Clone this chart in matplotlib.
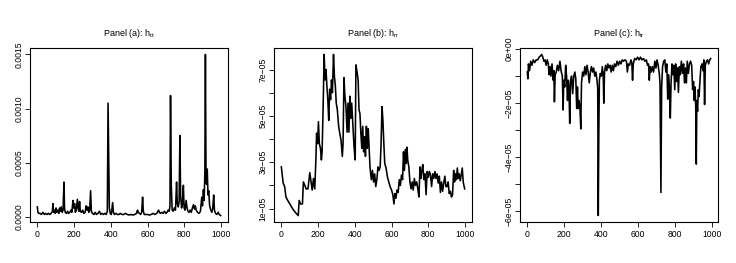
import numpy as np
import matplotlib
matplotlib.use("Agg")
import matplotlib.pyplot as plt

plt.rcParams["font.family"] = ["Liberation Sans", "DejaVu Sans"]
plt.rcParams["mathtext.default"] = "regular"

# panel (a): h_tt, values in 1e-5
a_x = [0, 3, 8, 15, 22, 30, 38, 45, 52, 60, 68, 75, 82, 85, 88, 93, 97, 102, 106, 112, 117, 121, 125, 130,
       135, 140, 145, 148, 152, 158, 165, 170, 177, 183, 188, 194, 198, 203, 207, 212, 218, 222, 226, 230,
       234, 240, 247, 253, 260, 266, 270, 275, 280, 285, 290, 294, 300, 308, 315, 322, 330, 338, 345, 352,
       360, 368, 375, 381, 385, 388, 392, 397, 403, 410, 414, 420, 428, 436, 444, 452, 460, 470, 480, 490,
       500, 510, 520, 530, 540, 545, 550, 556, 562, 568, 573, 577, 582, 590, 600, 610, 620, 630, 640, 650,
       660, 665, 670, 678, 685, 692, 700, 706, 712, 718, 722, 725, 729, 734, 740, 746, 752, 758, 762, 767,
       772, 776, 780, 785, 790, 795, 799, 804, 810, 815, 820, 826, 832, 838, 844, 850, 855, 860, 865, 872,
       880, 888, 895, 899, 904, 908, 912, 915, 918, 921, 925, 929, 933, 938, 944, 950, 955, 960, 964, 970,
       977, 985, 990, 998]
a_v = [9, 4, 3, 3, 2, 4, 2, 3, 2, 3, 2, 3, 5, 12, 4, 6, 3, 8, 4, 6, 3, 8, 5, 9,
       4, 6, 32, 8, 4, 3, 5, 3, 4, 6, 4, 15, 8, 12, 4, 6, 16, 8, 5, 14,
       5, 4, 6, 3, 4, 10, 6, 9, 4, 6, 24, 5, 3, 2, 4, 2, 3, 5, 2, 3,
       2, 3, 2, 5, 105, 60, 8, 3, 2, 13, 4, 2, 3, 2, 2, 3, 2, 2, 3, 2,
       1.5, 2, 1.5, 2, 3, 6, 4, 3, 2, 4, 18, 5, 2, 2, 2, 1.5, 2, 3, 2, 3,
       6, 4, 3, 4, 3, 5, 3, 4, 6, 5, 10, 112, 30, 6, 5, 8, 6, 32, 12, 9,
       14, 75, 20, 8, 12, 29, 8, 6, 15, 8, 5, 4, 6, 4, 8, 11, 7, 10, 6, 4,
       3, 5, 18, 10, 25, 15, 40, 150, 45, 30, 44, 20, 24, 10, 6, 4, 8, 20, 6, 3,
       2, 4, 2, 1]

# panel (b): h_rr, values in 1e-5
b_x = [0, 10, 18, 25, 35, 50, 65, 80, 92, 97, 105, 115, 120, 128, 135, 145, 155, 162, 168, 175, 182, 188,
       192, 197, 202, 207, 213, 218, 222, 228, 233, 238, 243, 248, 253, 258, 263, 268, 273, 278, 284, 289,
       294, 299, 305, 312, 318, 325, 332, 336, 341, 346, 352, 358, 363, 368, 373, 378, 383, 390, 396, 402,
       406, 412, 418, 423, 428, 433, 438, 443, 448, 453, 458, 463, 468, 473, 478, 483, 490, 496, 502, 508,
       514, 520, 526, 532, 538, 543, 548, 553, 558, 563, 570, 578, 585, 592, 600, 607, 613, 618, 624, 630,
       636, 642, 648, 654, 660, 665, 670, 676, 680, 684, 688, 694, 700, 706, 712, 718, 724, 730, 737, 743,
       749, 755, 760, 765, 770, 776, 782, 788, 794, 800, 806, 812, 818, 824, 830, 836, 842, 848, 854, 860,
       866, 872, 878, 884, 890, 896, 902, 908, 914, 920, 926, 932, 938, 943, 948, 953, 958, 963, 968, 974,
       980, 985, 990, 998]
b_v = [2.8, 2.1, 1.95, 1.5, 1.35, 1.15, 0.95, 0.8, 0.7, 1.35, 1.2, 1.2, 2.15, 2.0, 1.85, 1.85, 2.55, 2.15,
       1.8, 2.3, 1.85, 3.1, 4.25, 3.8, 4.75, 3.8, 3.6, 3.1, 3.45, 5.55, 7.65, 6.55, 7.0, 6.3, 5.7, 4.8,
       6.15, 5.7, 6.55, 6.0, 7.65, 6.7, 6.3, 5.55, 5.25, 4.55, 4.25, 3.95, 3.25, 3.8, 6.65, 5.85, 5.4, 4.3,
       5.55, 4.3, 5.85, 4.9, 5.55, 4.55, 3.65, 3.1, 7.2, 6.9, 6.55, 5.25, 5.1, 4.25, 3.6, 4.55, 3.45, 4.1,
       3.25, 4.55, 3.6, 4.45, 3.55, 2.75, 2.25, 2.65, 2.15, 2.5, 1.95, 2.25, 2.8, 2.65, 2.8, 3.8, 5.4, 4.8,
       3.8, 2.95, 2.75, 2.35, 2.15, 1.95, 1.8, 1.6, 1.2, 1.65, 1.45, 1.8, 1.7, 2.25, 2.0, 2.45, 2.25, 3.45,
       2.65, 3.55, 2.95, 3.65, 3.1, 2.8, 2.15, 1.85, 2.15, 1.8, 2.3, 2.0, 2.15, 1.85, 1.5, 2.8, 2.3, 2.65,
       2.9, 2.25, 2.5, 1.6, 2.6, 2.35, 2.6, 2.45, 1.95, 2.5, 2.3, 2.6, 2.3, 2.5, 2.1, 2.4, 1.7, 2.15,
       1.75, 2.1, 2.4, 1.95, 1.95, 2.15, 1.65, 1.75, 1.5, 1.6, 2.65, 2.15, 2.5, 2.25, 2.75, 2.3, 2.5, 2.2,
       2.5, 2.75, 2.15, 1.85]

# panel (c): h_tr, values in 1e-5
c_x = [0, 3, 6, 12, 18, 25, 32, 40, 48, 56, 64, 72, 78, 84, 90, 96, 102, 108, 114, 118, 123, 128, 134, 140,
       144, 147, 151, 157, 163, 170, 177, 183, 190, 194, 198, 203, 208, 213, 218, 222, 226, 230, 234, 240,
       246, 252, 258, 263, 268, 272, 276, 281, 286, 290, 294, 300, 306, 312, 318, 324, 330, 336, 342, 348,
       354, 360, 366, 372, 378, 382, 385, 388, 391, 396, 402, 407, 412, 415, 419, 425, 431, 437, 443, 449,
       455, 461, 467, 473, 480, 487, 494, 501, 508, 515, 522, 530, 538, 543, 548, 555, 562, 567, 571, 575,
       582, 590, 598, 606, 614, 622, 630, 638, 646, 652, 658, 662, 666, 672, 678, 685, 692, 698, 704, 710,
       716, 720, 725, 729, 734, 740, 746, 752, 757, 762, 766, 771, 776, 780, 785, 790, 795, 800, 805, 810,
       815, 820, 825, 830, 836, 842, 848, 853, 858, 863, 868, 874, 880, 886, 892, 897, 902, 906, 910, 914,
       917, 920, 924, 928, 932, 937, 942, 948, 953, 958, 962, 966, 972, 978, 984, 990, 995]
c_v = [-0.85, -1.1, -0.55, -0.8, -0.45, -0.6, -0.4, -0.5, -0.4, -0.4, -0.3, -0.25, -0.2, -0.3, -0.45,
       -0.4, -0.6, -0.4, -0.55, -0.95, -0.65, -1.0, -0.55, -1.15, -0.8, -1.95, -0.95, -0.85, -0.6, -0.8,
       -0.45, -0.8, -1.0, -2.25, -1.15, -1.4, -0.6, -1.0, -1.9, -1.15, -1.45, -2.75, -1.2, -1.0, -1.65,
       -1.0, -0.85, -1.1, -2.2, -1.4, -2.2, -1.9, -2.25, -2.95, -1.25, -0.85, -1.0, -0.65, -0.95, -0.6,
       -0.85, -1.25, -0.85, -0.65, -0.85, -0.7, -1.0, -0.85, -1.15, -1.45, -6.15, -3.1, -1.15, -0.9, -1.0,
       -0.65, -1.0, -2.0, -0.85, -0.6, -0.8, -0.55, -0.7, -0.6, -0.85, -0.6, -0.8, -0.55, -0.65, -0.45,
       -0.6, -0.45, -0.55, -0.4, -0.45, -0.4, -0.45, -0.85, -0.55, -0.6, -0.4, -0.5, -1.15, -0.55, -0.35,
       -0.4, -0.3, -0.4, -0.3, -0.4, -0.35, -0.45, -0.4, -0.6, -0.55, -1.15, -0.65, -0.85, -0.65, -0.85,
       -0.45, -0.7, -0.4, -0.6, -0.9, -1.25, -5.3, -1.4, -0.65, -0.45, -0.4, -0.85, -0.55, -1.85, -0.95,
       -1.4, -2.55, -1.25, -0.55, -0.95, -0.6, -1.5, -0.55, -1.2, -0.7, -1.6, -0.65, -0.95, -0.45, -0.9,
       -0.55, -1.25, -0.7, -1.25, -0.45, -0.9, -0.55, -0.45, -0.6, -1.5, -1.2, -1.9, -1.4, -2.15, -4.25,
       -1.9, -2.3, -1.5, -1.75, -1.15, -0.65, -0.55, -0.8, -0.4, -2.05, -0.6, -0.45, -0.4, -0.55, -0.4,
       -0.35]

titles = ["Panel (a): h$_{tt}$", "Panel (b): h$_{rr}$", "Panel (c): h$_{tr}$"]

fig = plt.figure(figsize=(7.36, 2.63), dpi=100)
lefts = [30, 274, 520]
axes = [fig.add_axes([l / 736, 41 / 263, 198 / 736, 174 / 263]) for l in lefts]

series = [(a_x, a_v), (b_x, b_v), (c_x, c_v)]
for ax, (xs, vs), t in zip(axes, series, titles):
    ax.plot(xs, np.array(vs) * 1e-5, color="black", lw=1.15)
    ax.margins(x=0.04, y=0.04)
    ax.set_title(t, fontsize=6.5, pad=9)
    ax.set_xticks([0, 200, 400, 600, 800, 1000])
    ax.tick_params(labelsize=6.2, length=3.5, width=0.6, pad=2.5, color="black")
    ax.tick_params(axis="y", pad=1.0)
    for s in ax.spines.values():
        s.set_linewidth(0.8)

axes[0].set_yticks([0, 0.0005, 0.0010, 0.0015])
axes[0].set_yticklabels(["0.0000", "0.0005", "0.0010", "0.0015"])
axes[1].set_yticks([1e-5, 2e-5, 3e-5, 4e-5, 5e-5, 6e-5, 7e-5])
axes[1].set_yticklabels(["1e\u221205", "", "3e\u221205", "", "5e\u221205", "", "7e\u221205"])
axes[2].set_yticks([0, -1e-5, -2e-5, -3e-5, -4e-5, -5e-5, -6e-5])
axes[2].set_yticklabels(["0e+00", "", "\u22122e\u221205", "", "\u22124e\u221205", "", "\u22126e\u221205"])
for ax in axes:
    for lab in ax.get_yticklabels():
        lab.set_rotation(90)
        lab.set_va("center")

fig.savefig("out.png", dpi=100)
